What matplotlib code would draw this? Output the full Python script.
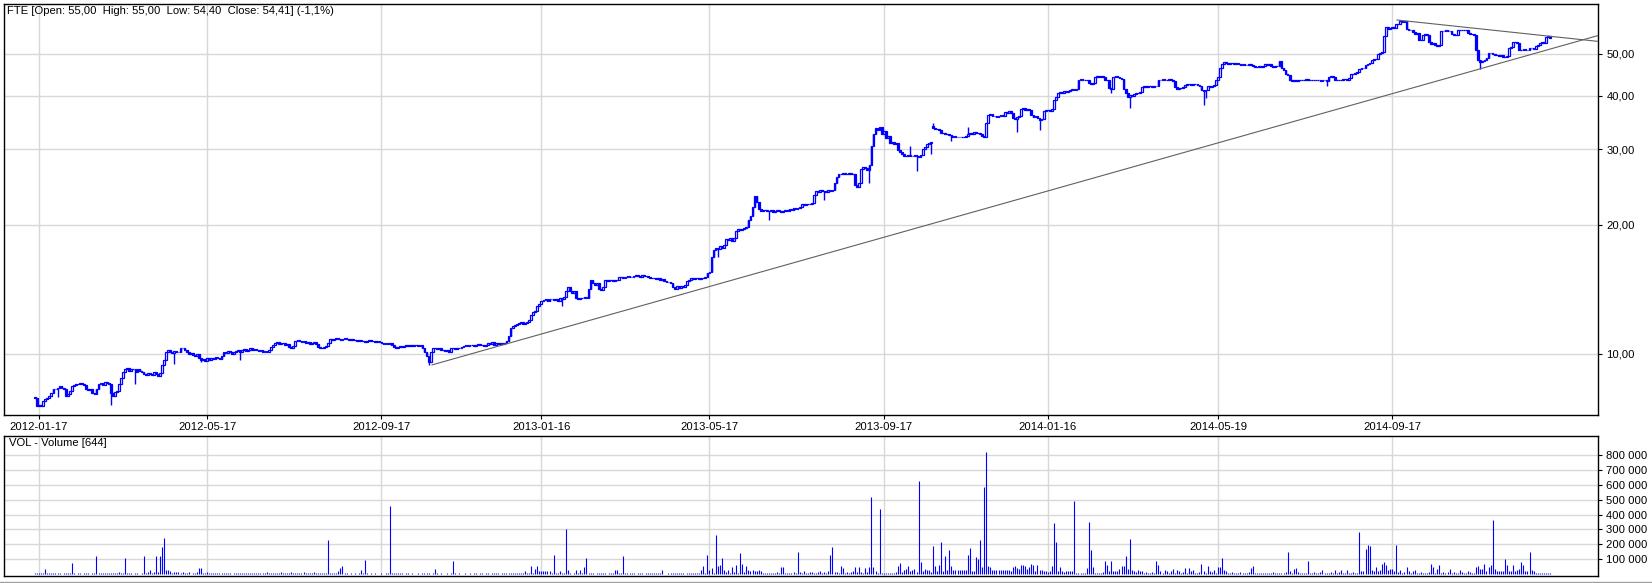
import numpy as np
import matplotlib
matplotlib.use("Agg")
import matplotlib.pyplot as plt
from matplotlib.ticker import FixedLocator, NullLocator

plt.rcParams['font.family'] = ['Liberation Sans', 'DejaVu Sans']

# daily closes, one value per trading day (index 0 = first session)
close = [
    7.90, 7.55, 7.60, 7.58, 7.75, 7.85, 7.90, 8.00, 8.10, 8.30,
    8.30, 8.35, 8.40, 8.35, 8.30, 8.00, 8.05, 8.20, 8.40, 8.45,
    8.50, 8.50, 8.55, 8.50, 8.45, 8.30, 8.25, 8.30, 8.10, 8.05,
    8.30, 8.50, 8.55, 8.45, 8.60, 8.55, 8.50, 8.10, 8.00, 8.15,
    8.20, 8.50, 8.80, 9.10, 9.20, 9.25, 9.15, 9.20, 9.20, 9.10,
    9.20, 9.15, 9.10, 9.00, 8.95, 9.05, 9.00, 8.95, 9.10, 9.00,
    8.90, 9.05, 9.40, 9.70, 10.10, 10.20, 10.10, 10.05, 10.15, 10.10,
    10.10, 10.30, 10.35, 10.20, 10.10, 10.00, 10.05, 9.95, 9.90, 10.00,
    9.80, 9.70, 9.75, 9.65, 9.80, 9.70, 9.80, 9.75, 9.85, 9.80,
    9.75, 9.90, 10.10, 10.05, 10.15, 10.10, 10.00, 10.10, 10.15, 10.20,
    10.10, 10.20, 10.25, 10.15, 10.20, 10.30, 10.20, 10.25, 10.20, 10.15,
    10.20, 10.10, 10.15, 10.10, 10.20, 10.40, 10.50, 10.60, 10.65, 10.55,
    10.60, 10.60, 10.50, 10.55, 10.40, 10.35, 10.45, 10.70, 10.75, 10.70,
    10.65, 10.70, 10.60, 10.65, 10.55, 10.60, 10.65, 10.55, 10.40, 10.30,
    10.35, 10.40, 10.45, 10.60, 10.85, 10.80, 10.85, 10.90, 10.85, 10.80,
    10.85, 10.90, 10.85, 10.80, 10.85, 10.80, 10.75, 10.70, 10.75, 10.70,
    10.70, 10.65, 10.70, 10.75, 10.70, 10.70, 10.65, 10.70, 10.65, 10.60,
    10.55, 10.60, 10.55, 10.60, 10.50, 10.40, 10.35, 10.40, 10.45, 10.40,
    10.45, 10.50, 10.45, 10.50, 10.45, 10.50, 10.50, 10.45, 10.50, 10.30,
    10.10, 9.90, 9.60, 10.10, 10.30, 10.35, 10.25, 10.30, 10.20, 10.20,
    10.15, 10.20, 10.10, 10.30, 10.35, 10.25, 10.30, 10.35, 10.40, 10.45,
    10.50, 10.45, 10.50, 10.50, 10.45, 10.50, 10.55, 10.50, 10.50, 10.45,
    10.50, 10.60, 10.55, 10.65, 10.50, 10.60, 10.55, 10.60, 10.55, 10.60,
    10.70, 11.00, 11.50, 11.60, 11.70, 11.75, 11.80, 11.85, 11.75, 11.80,
    11.90, 12.00, 12.30, 12.50, 12.60, 12.90, 13.10, 13.30, 13.35, 13.40,
    13.30, 13.45, 13.40, 13.35, 13.40, 13.30, 13.50, 13.40, 13.60, 14.00,
    14.30, 14.00, 13.90, 14.00, 13.50, 13.40, 13.50, 13.50, 13.55, 13.50,
    14.20, 14.90, 14.60, 14.50, 14.60, 14.20, 14.10, 14.30, 14.85, 14.80,
    14.90, 14.85, 14.80, 14.90, 14.85, 15.10, 15.15, 15.00, 15.10, 15.20,
    15.10, 15.15, 15.20, 15.25, 15.20, 15.15, 15.25, 15.20, 15.20, 15.15,
    15.00, 15.05, 15.00, 14.95, 15.00, 14.90, 14.95, 14.80, 14.75, 14.70,
    14.60, 14.30, 14.20, 14.40, 14.25, 14.40, 14.30, 14.50, 14.80, 14.85,
    15.00, 14.95, 15.05, 15.00, 14.95, 15.05, 15.00, 15.10, 15.40, 15.50,
    16.80, 17.50, 17.70, 17.60, 17.80, 17.70, 17.90, 18.50, 18.40, 18.60,
    18.30, 18.60, 19.30, 19.50, 19.40, 19.60, 19.70, 19.80, 20.50, 21.00,
    22.00, 23.30, 22.60, 21.80, 21.50, 21.70, 21.60, 21.50, 21.50, 21.60,
    21.40, 21.50, 21.60, 21.50, 21.40, 21.50, 21.60, 21.50, 21.80, 21.70,
    21.90, 21.80, 21.90, 22.00, 22.30, 22.20, 22.40, 22.30, 22.30, 22.50,
    23.50, 24.00, 23.90, 24.10, 24.00, 24.00, 23.90, 24.10, 24.00, 24.10,
    25.00, 25.80, 26.30, 26.20, 26.40, 26.30, 26.20, 26.40, 26.30, 26.20,
    24.80, 24.50, 25.00, 27.00, 27.30, 27.10, 26.80, 27.50, 30.50, 32.50,
    33.60, 33.20, 33.80, 32.50, 33.00, 31.80, 32.20, 31.00, 31.20, 30.80,
    31.00, 29.80, 29.50, 29.30, 29.00, 29.00, 29.10, 28.90, 29.00, 29.05,
    28.90, 28.80, 29.10, 30.00, 30.40, 30.80, 31.00, 31.10, 33.60, 33.40,
    33.50, 33.20, 32.80, 32.70, 32.60, 32.50, 32.30, 32.10, 32.20, 32.00,
    32.10, 32.10, 32.00, 32.10, 32.20, 32.50, 32.70, 32.60, 32.90, 32.70,
    32.80, 32.60, 32.20, 32.00, 34.50, 36.00, 36.30, 35.80, 35.90, 35.70,
    35.80, 36.00, 35.90, 36.60, 36.50, 36.80, 36.40, 35.50, 35.20, 35.60,
    35.80, 37.20, 37.40, 37.10, 37.30, 37.00, 36.00, 35.60, 35.80, 35.40,
    35.00, 35.20, 36.80, 37.00, 37.10, 36.90, 37.20, 39.00, 39.60, 40.50,
    40.80, 40.60, 40.90, 40.80, 41.00, 41.20, 41.40, 41.20, 41.50, 43.50,
    43.70, 43.40, 43.60, 43.50, 42.70, 42.50, 42.80, 44.30, 44.50, 44.20,
    44.40, 44.30, 43.50, 43.40, 41.60, 41.40, 44.20, 44.40, 44.30, 44.00,
    43.80, 41.50, 40.50, 39.80, 40.20, 40.00, 40.40, 40.60, 40.50, 40.80,
    41.80, 42.00, 41.90, 42.10, 42.00, 41.80, 42.00, 42.20, 43.40, 43.60,
    43.70, 43.50, 43.60, 43.80, 43.50, 43.30, 41.80, 41.50, 41.70, 41.60,
    41.90, 42.40, 42.60, 42.50, 42.30, 42.60, 42.50, 42.40, 42.20, 41.30,
    41.00, 41.20, 42.00, 41.90, 42.10, 42.30, 43.50, 44.20, 46.50, 47.50,
    47.80, 47.60, 47.50, 47.70, 47.60, 47.50, 47.60, 47.30, 47.20, 47.40,
    47.20, 47.10, 47.30, 47.20, 46.80, 46.70, 46.60, 46.80, 46.70, 46.90,
    47.30, 47.20, 47.40, 46.80, 46.70, 46.90, 47.00, 48.20, 46.50, 45.80,
    45.00, 44.60, 43.50, 43.20, 43.40, 43.30, 43.50, 43.60, 43.40, 43.50,
    43.70, 43.50, 43.40, 43.60, 43.50, 43.40, 43.40, 43.30, 43.50, 43.40,
    43.20, 44.30, 44.50, 44.10, 43.60, 43.40, 43.50, 43.60, 43.70, 43.80,
    43.60, 43.90, 44.80, 45.00, 45.20, 45.40, 46.20, 46.40, 46.50, 47.20,
    47.50, 47.60, 48.30, 48.60, 48.80, 50.00, 50.30, 50.60, 55.00, 57.80,
    57.20, 57.50, 57.90, 57.40, 58.60, 58.80, 59.60, 59.40, 59.70, 57.20,
    56.80, 57.00, 56.20, 55.80, 56.00, 54.00, 53.80, 55.50, 55.60, 55.30,
    53.20, 52.80, 53.00, 52.50, 52.30, 52.60, 56.50, 56.60, 56.80, 56.60,
    56.70, 55.60, 55.40, 55.50, 56.80, 56.90, 57.00, 56.80, 56.90, 55.90,
    55.70, 55.80, 55.50, 51.00, 48.50, 47.80, 48.20, 48.50, 49.00, 50.20,
    50.40, 50.00, 49.60, 49.80, 49.50, 49.70, 49.30, 49.20, 49.40, 51.50,
    51.80, 53.20, 53.40, 53.00, 51.20, 51.00, 51.30, 51.10, 51.20, 51.50,
    51.60, 51.40, 52.30, 52.50, 53.00, 53.20, 52.90, 54.80, 55.00, 54.41,
]
first_open = 7.95

# sessions with a visible wick beyond the body (index, price reached)
wick_idx = [11, 37, 49, 68, 81, 100, 192, 257, 333, 341, 358, 385, 407, 427,
            430, 437, 438, 447, 455, 479, 490, 525, 534, 570, 571, 630, 705]
wick_val = [7.95, 7.60, 8.50, 9.50, 9.60, 9.70, 9.43, 12.90, 16.80, 18.60, 20.50, 22.80, 25.00, 30.60,
            26.70, 29.20, 34.60, 31.30, 33.80, 32.90, 33.20, 40.60, 37.40, 38.00, 39.50, 42.00, 46.20]

# opening gap
gap_idx = [438]
gap_open = [33.90]

# daily volume, thousands of shares
volume_k = [
    9, 8, 7, 9, 8, 34, 8, 9, 7, 8,
    9, 8, 7, 0, 9, 8, 10, 7, 76, 8,
    0, 7, 8, 0, 9, 8, 7, 0, 10, 9,
    121, 9, 8, 7, 9, 8, 10, 9, 8, 7,
    9, 12, 10, 8, 108, 9, 8, 7, 0, 9,
    8, 0, 7, 121, 9, 14, 27, 10, 12, 121,
    15, 121, 182, 242, 28, 30, 18, 10, 14, 12,
    16, 10, 14, 9, 8, 12, 0, 9, 10, 14,
    38, 38, 10, 9, 12, 8, 10, 9, 8, 7,
    9, 8, 10, 7, 8, 9, 0, 8, 7, 9,
    8, 9, 10, 8, 7, 9, 8, 10, 9, 8,
    9, 10, 8, 12, 9, 8, 9, 10, 8, 9,
    12, 9, 8, 10, 9, 14, 10, 9, 8, 9,
    10, 12, 9, 8, 10, 9, 12, 9, 8, 10,
    9, 8, 10, 229, 8, 9, 10, 8, 20, 38,
    54, 9, 8, 0, 7, 0, 8, 0, 9, 27,
    8, 94, 9, 0, 8, 0, 7, 0, 0, 8,
    0, 9, 8, 458, 9, 8, 10, 9, 8, 9,
    0, 8, 7, 0, 8, 0, 0, 9, 0, 8,
    9, 8, 10, 0, 9, 34, 8, 0, 7, 0,
    0, 8, 0, 9, 87, 8, 0, 9, 0, 0,
    8, 0, 9, 0, 8, 7, 0, 8, 9, 0,
    7, 8, 0, 9, 8, 7, 9, 0, 8, 7,
    9, 8, 7, 10, 8, 9, 7, 8, 10, 22,
    8, 9, 51, 10, 33, 51, 20, 18, 20, 22,
    18, 20, 9, 129, 8, 9, 22, 8, 10, 302,
    29, 9, 0, 8, 25, 9, 29, 8, 44, 109,
    9, 8, 7, 0, 9, 8, 7, 9, 8, 0,
    9, 8, 10, 29, 29, 9, 8, 122, 9, 10,
    8, 7, 9, 0, 8, 9, 7, 0, 8, 9,
    7, 9, 8, 10, 9, 8, 29, 0, 0, 9,
    8, 10, 9, 8, 7, 9, 8, 0, 8, 9,
    10, 8, 9, 7, 8, 29, 51, 9, 129, 24,
    38, 9, 262, 51, 62, 107, 29, 12, 29, 10,
    44, 12, 58, 10, 142, 69, 14, 56, 25, 20,
    29, 22, 20, 25, 22, 10, 8, 9, 7, 10,
    8, 9, 12, 10, 44, 49, 9, 10, 8, 9,
    12, 10, 149, 12, 9, 18, 10, 9, 14, 12,
    10, 9, 12, 18, 10, 14, 9, 20, 129, 182,
    14, 12, 10, 56, 42, 10, 12, 9, 14, 18,
    44, 12, 49, 14, 10, 38, 12, 44, 516, 49,
    22, 10, 436, 9, 8, 10, 9, 8, 10, 9,
    12, 56, 73, 14, 29, 36, 56, 18, 29, 36,
    14, 622, 84, 18, 33, 29, 29, 14, 189, 51,
    18, 58, 216, 22, 118, 29, 162, 56, 29, 29,
    29, 25, 29, 29, 29, 129, 176, 18, 22, 116,
    104, 229, 44, 582, 822, 51, 44, 29, 29, 29,
    25, 29, 29, 25, 29, 29, 22, 47, 56, 40,
    33, 62, 62, 56, 36, 47, 69, 62, 18, 62,
    24, 29, 18, 18, 12, 18, 56, 342, 216, 18,
    49, 22, 12, 18, 18, 22, 18, 489, 9, 10,
    8, 9, 10, 40, 349, 162, 49, 9, 10, 8,
    10, 12, 89, 62, 18, 89, 22, 22, 18, 33,
    51, 56, 122, 33, 236, 29, 18, 12, 29, 18,
    18, 10, 12, 9, 10, 12, 9, 89, 62, 18,
    10, 29, 18, 9, 18, 36, 10, 29, 18, 9,
    12, 40, 10, 40, 18, 24, 9, 10, 12, 69,
    18, 10, 56, 18, 12, 29, 10, 49, 49, 107,
    29, 18, 9, 10, 12, 9, 10, 9, 12, 10,
    9, 10, 12, 40, 56, 10, 9, 8, 10, 9,
    8, 10, 9, 8, 12, 9, 10, 8, 9, 10,
    12, 149, 18, 10, 33, 40, 12, 9, 10, 9,
    10, 89, 10, 9, 12, 10, 9, 12, 29, 10,
    9, 10, 12, 9, 29, 10, 12, 29, 9, 10,
    29, 10, 9, 12, 10, 9, 282, 18, 18, 169,
    196, 189, 29, 22, 44, 22, 29, 69, 82, 62,
    29, 36, 36, 18, 196, 12, 29, 10, 12, 49,
    18, 10, 18, 29, 10, 9, 12, 10, 9, 10,
    12, 69, 49, 10, 36, 62, 10, 12, 9, 12,
    36, 10, 12, 9, 10, 29, 12, 10, 9, 18,
    12, 10, 9, 44, 51, 36, 36, 69, 18, 44,
    62, 362, 36, 22, 18, 18, 18, 102, 62, 18,
    18, 62, 18, 29, 36, 82, 62, 18, 18, 149,
    29, 18, 7, 7, 7, 7, 7, 7, 7, 7,
]

# date axis (session index of each labelled date)
date_pos = [2, 84, 169, 247, 329, 414, 494, 577, 662]
date_labels = ['2012-01-17', '2012-05-17', '2012-09-17', '2013-01-16', '2013-05-17',
               '2013-09-17', '2014-01-16', '2014-05-19', '2014-09-17']

price_ticks = [10, 20, 30, 40, 50]
price_labels = ['10,00', '20,00', '30,00', '40,00', '50,00']
vol_ticks = [100000, 200000, 300000, 400000, 500000, 600000, 700000, 800000]
vol_labels = ['100 000', '200 000', '300 000', '400 000', '500 000', '600 000', '700 000', '800 000']

# trend lines: (start index, end index), (start price, end price)
trend_x = [[193.7, 762.4], [664.4, 762.4]]
trend_y = [[9.43, 55.2], [60.0, 53.5]]

header = 'FTE [Open: 55,00  High: 55,00  Low: 54,40  Close: 54,41] (-1,1%)'
vol_header = 'VOL - Volume [644]'

assert len(close) == 740 and len(volume_k) == 740

BLUE = '#0000ff'
GRID = '#d8d8d8'
W, H = 1652, 583
X0, X1 = -15.1, 762.4
FS = 8.1

fig = plt.figure(figsize=(W / 100, H / 100), dpi=100)


def px_axes(left, top, right, bottom):
    return fig.add_axes([left / W, 1 - bottom / H, (right - left) / W, (bottom - top) / H])


ax = px_axes(4, 4, 1598, 415)
axv = px_axes(4, 436, 1598, 576)

n = len(close)
idx = np.arange(n)
c = np.array(close)
o = np.concatenate([[first_open], c[:-1]])
for i, v in zip(gap_idx, gap_open):
    o[i] = v
body_lo = np.minimum(o, c)
body_hi = np.maximum(o, c)
lo = body_lo.copy()
hi = body_hi.copy()
for i, v in zip(wick_idx, wick_val):
    lo[i] = min(lo[i], v)
    hi[i] = max(hi[i], v)

# price panel
ax.set_yscale('log')
ax.vlines(idx, lo, hi, color=BLUE, lw=1.0, zorder=3)
up = c >= o
ax.bar(idx[up], (body_hi - body_lo)[up], bottom=body_lo[up], width=0.85,
       facecolor='white', edgecolor=BLUE, linewidth=0.9, zorder=4)
ax.bar(idx[~up], (body_hi - body_lo)[~up], bottom=body_lo[~up], width=0.85,
       facecolor=BLUE, edgecolor=BLUE, linewidth=0.9, zorder=4)
for tx, ty in zip(trend_x, trend_y):
    ax.plot(tx, ty, color='#606060', lw=0.8, zorder=5)

ax.set_xlim(X0, X1)
ax.set_ylim(7.207, 65.38)
ax.yaxis.set_major_locator(FixedLocator(price_ticks))
ax.yaxis.set_minor_locator(NullLocator())
ax.set_yticklabels(price_labels)
ax.set_xticks(date_pos)
ax.set_xticklabels(date_labels)
ax.yaxis.tick_right()
ax.grid(True, color=GRID, lw=1.0)
ax.set_axisbelow(True)
ax.tick_params(axis='both', direction='out', length=3, width=0.8, labelsize=FS, pad=2)
ax.tick_params(axis='y', pad=3)
ax.text(0.0019, 1 - 6.5 / 411, header, transform=ax.transAxes, fontsize=FS,
        ha='left', va='center')

# volume panel
axv.vlines(idx, 0, np.array(volume_k) * 1000, color=BLUE, lw=0.8)
axv.set_xlim(X0, X1)
axv.set_ylim(-13400, 927700)
axv.yaxis.tick_right()
axv.set_yticks(vol_ticks)
axv.set_yticklabels(vol_labels)
axv.set_xticks(date_pos)
axv.set_xticklabels([])
axv.tick_params(axis='x', length=0)
axv.tick_params(axis='y', direction='out', length=3, width=0.8, labelsize=FS, pad=3)
axv.grid(True, color=GRID, lw=1.0)
axv.set_axisbelow(True)
axv.text(0.003, 1 - 7.3 / 140, vol_header, transform=axv.transAxes, fontsize=FS,
         ha='left', va='center')

for a in (ax, axv):
    for s in a.spines.values():
        s.set_linewidth(1.0)
        s.set_color('black')

fig.add_artist(plt.Line2D([0, 1], [1 - 582 / H, 1 - 582 / H], color='#a0a0a0', lw=1.0))

fig.savefig('out.png', dpi=100)
